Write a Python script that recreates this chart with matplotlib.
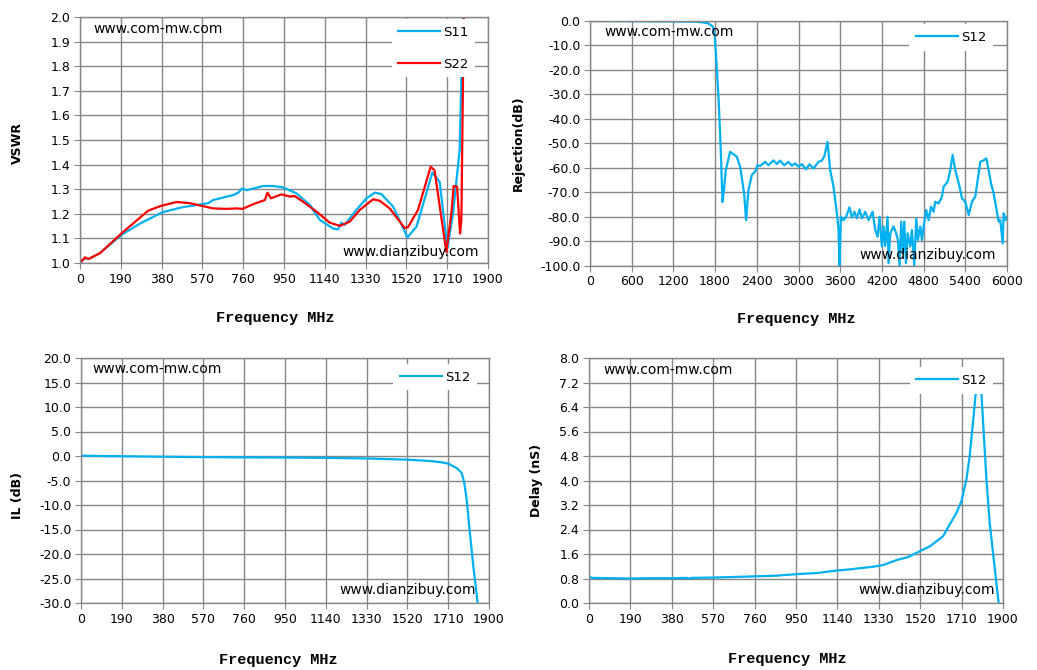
import numpy as np
import matplotlib
matplotlib.use("Agg")
import matplotlib.pyplot as plt

blue = "#00b0f0"
red = "#ff0000"
grid_c = "#868686"

# VSWR (top left)
s11_freq = [0, 23, 39, 93, 194, 279, 383, 473, 574, 597, 620, 713, 737, 755, 776, 853, 900, 946,
            1008, 1070, 1117, 1179, 1202, 1217, 1233, 1287, 1334, 1373, 1404, 1458, 1525, 1567,
            1641, 1675, 1711, 1737, 1768, 1776, 1784, 1790]
s11_vswr = [1.00, 1.02, 1.016, 1.04, 1.115, 1.16, 1.206, 1.226, 1.24, 1.243, 1.256, 1.276, 1.286,
            1.303, 1.296, 1.313, 1.313, 1.307, 1.283, 1.236, 1.175, 1.14, 1.137, 1.164, 1.155,
            1.216, 1.263, 1.286, 1.28, 1.229, 1.104, 1.148, 1.368, 1.33, 1.06, 1.2, 1.458, 1.755,
            2.0, 2.1]
s22_freq = [0, 23, 39, 93, 194, 318, 380, 450, 512, 620, 682, 729, 757, 806, 861, 873, 889, 938,
            977, 1000, 1039, 1101, 1163, 1210, 1256, 1303, 1365, 1396, 1442, 1512, 1528, 1574,
            1633, 1651, 1706, 1729, 1740, 1756, 1770, 1776, 1787, 1792]
s22_vswr = [1.00, 1.023, 1.016, 1.04, 1.121, 1.213, 1.233, 1.248, 1.243, 1.222, 1.22, 1.222, 1.22,
            1.239, 1.256, 1.286, 1.263, 1.279, 1.27, 1.272, 1.249, 1.209, 1.164, 1.151, 1.168,
            1.216, 1.259, 1.253, 1.222, 1.142, 1.146, 1.216, 1.391, 1.377, 1.045, 1.2, 1.313,
            1.31, 1.12, 1.175, 2.0, 2.1]

# Rejection (top right)
rej_freq = [0, 600, 1200, 1500, 1600, 1704, 1766, 1790, 1800, 1824, 1850, 1872, 1890, 1906, 1920,
            1954, 2016, 2112, 2160, 2218, 2246, 2280, 2328, 2376, 2410, 2448, 2520, 2568, 2640,
            2688, 2736, 2794, 2856, 2904, 2952, 3000, 3048, 3106, 3158, 3216, 3288, 3336, 3370,
            3418, 3456, 3504, 3552, 3576, 3590, 3610, 3648, 3686, 3734, 3768, 3806, 3840, 3878,
            3912, 3960, 4008, 4066, 4104, 4138, 4166, 4200, 4224, 4248, 4282, 4296, 4320, 4368,
            4406, 4430, 4454, 4478, 4502, 4522, 4546, 4570, 4608, 4632, 4666, 4694, 4718, 4752,
            4776, 4810, 4838, 4872, 4906, 4944, 4968, 5016, 5064, 5088, 5146, 5184, 5218, 5256,
            5318, 5352, 5400, 5448, 5496, 5544, 5578, 5616, 5664, 5702, 5736, 5770, 5808, 5846,
            5880, 5904, 5938, 5952, 5976, 6000]
rej_db = [-0.1, -0.2, -0.3, -0.4, -0.6, -1.1, -2.4, -5.0, -8.0, -19.0, -32.0, -46.0, -60.0, -74.0,
          -71.0, -61.0, -53.5, -55.5, -59.6, -70.5, -81.4, -69.0, -63.0, -61.6, -59.0, -59.3,
          -57.6, -59.0, -57.0, -58.5, -57.1, -59.0, -57.6, -59.2, -58.2, -59.6, -58.5, -60.7,
          -58.6, -60.3, -57.6, -57.1, -55.5, -49.4, -61.0, -67.8, -78.6, -85.4, -100.0, -80.0,
          -81.4, -80.0, -76.2, -80.3, -78.0, -80.7, -77.0, -80.7, -78.0, -81.4, -78.0, -85.4,
          -88.2, -80.0, -92.2, -84.0, -92.0, -80.0, -99.0, -86.8, -84.0, -86.8, -89.5, -100.0,
          -82.0, -95.0, -82.0, -99.0, -86.8, -92.2, -85.4, -100.0, -80.7, -89.5, -84.0, -89.5,
          -82.0, -77.3, -81.4, -75.9, -78.0, -73.9, -74.6, -71.8, -67.8, -65.7, -61.0, -54.8,
          -61.0, -67.8, -72.5, -73.9, -79.3, -73.9, -71.8, -65.0, -57.6, -57.0, -56.2, -61.0,
          -66.4, -70.5, -76.6, -82.0, -81.4, -90.9, -78.6, -81.4, -80.0]

# Insertion loss (bottom left)
il_freq = [0, 190, 380, 570, 760, 950, 1140, 1330, 1520, 1600, 1641, 1680, 1711, 1749, 1773, 1785,
           1796, 1811, 1827, 1847]
il_db = [0.05, -0.05, -0.15, -0.22, -0.28, -0.32, -0.38, -0.5, -0.75, -0.95, -1.09, -1.3, -1.56,
         -2.45, -3.47, -5.5, -8.9, -15.7, -22.5, -30.0]

# Group delay (bottom right)
dl_freq = [0, 15, 30, 100, 190, 285, 380, 450, 460, 470, 570, 665, 760, 855, 950, 1000, 1050, 1100,
           1140, 1200, 1260, 1300, 1350, 1411, 1464, 1518, 1564, 1594, 1625, 1655, 1686, 1709,
           1732, 1747, 1762, 1775, 1788, 1800, 1824, 1839, 1880]
dl_ns = [0.85, 0.82, 0.82, 0.81, 0.80, 0.81, 0.81, 0.82, 0.79, 0.82, 0.83, 0.85, 0.87, 0.89, 0.94,
         0.96, 0.98, 1.03, 1.06, 1.10, 1.15, 1.18, 1.24, 1.40, 1.50, 1.69, 1.85, 2.01, 2.18, 2.56,
         2.94, 3.32, 4.03, 4.79, 5.88, 6.86, 7.6, 6.97, 4.03, 2.61, 0.0]

fig = plt.figure(figsize=(10.37, 6.70), dpi=100)


def style(ax, xmax, xstep, ylo, yhi, ystep, ylabel, xl, yl, leg_anchor, fmt="%.1f"):
    ax.set_xlim(0, xmax)
    ax.set_ylim(ylo, yhi)
    ax.set_xticks(np.arange(0, xmax + xstep / 2, xstep))
    ax.set_yticks(np.arange(ylo, yhi + ystep / 2, ystep))
    ax.yaxis.set_major_formatter(matplotlib.ticker.FormatStrFormatter(fmt))
    ax.grid(True, color=grid_c, linewidth=1.0)
    ax.set_axisbelow(True)
    for s in ax.spines.values():
        s.set_color(grid_c)
        s.set_linewidth(1.0)
    ax.tick_params(axis="both", direction="out", length=4, color=grid_c, labelsize=9, pad=3)
    ax.set_xlabel("Frequency MHz", family="Liberation Mono", fontweight="bold", fontsize=11)
    ax.set_ylabel(ylabel, fontweight="bold", fontsize=9)
    ax.xaxis.set_label_coords(*xl)
    ax.yaxis.set_label_coords(*yl)
    leg = ax.legend(loc="upper right", bbox_to_anchor=leg_anchor, frameon=True, fancybox=False,
                    edgecolor="none", framealpha=1, fontsize=9.5, handlelength=3.2,
                    handletextpad=0.2, labelspacing=1.4, borderpad=0.5, borderaxespad=0)
    leg.get_frame().set_linewidth(0)


def marks(ax, top, bottom):
    ax.text(top[0], top[1], "www.com-mw.com", transform=ax.transAxes, fontsize=10,
            ha="left", va="center")
    ax.text(bottom[0], bottom[1], "www.dianzibuy.com", transform=ax.transAxes, fontsize=10,
            ha="right", va="center")


# top left
ax1 = fig.add_axes([80 / 1037, 1 - 263 / 670, 408 / 1037, 246 / 670])
ax1.plot(s11_freq, s11_vswr, color=blue, lw=1.6, label="S11")
ax1.plot(s22_freq, s22_vswr, color=red, lw=1.6, label="S22")
style(ax1, 1900, 190, 1.0, 2.0, 0.1, "VSWR", (0.478, -0.195), (-0.137, 0.488), (0.968, 0.99))
marks(ax1, (0.032, 0.951), (0.978, 0.045))

# top right
ax2 = fig.add_axes([590 / 1037, 1 - 265.7 / 670, 417 / 1037, 245 / 670])
ax2.plot(rej_freq, rej_db, color=blue, lw=1.6, label="S12")
style(ax2, 6000, 600, -100, 0, 10, "Rejection(dB)", (0.494, -0.189), (-0.156, 0.5), (0.966, 0.985))
marks(ax2, (0.034, 0.954), (0.974, 0.044))

# bottom left
ax3 = fig.add_axes([81 / 1037, 1 - 603 / 670, 408 / 1037, 245 / 670])
ax3.plot(il_freq, il_db, color=blue, lw=1.6, label="S12")
style(ax3, 1900, 190, -30, 20, 5, "IL (dB)", (0.483, -0.204), (-0.14, 0.44), (0.97, 0.975))
marks(ax3, (0.027, 0.955), (0.968, 0.053))

# bottom right
ax4 = fig.add_axes([589 / 1037, 1 - 603 / 670, 414 / 1037, 245 / 670])
ax4.plot(dl_freq, dl_ns, color=blue, lw=1.6, label="S12")
style(ax4, 1900, 190, 0, 8, 0.8, "Delay (nS)", (0.48, -0.2), (-0.111, 0.5), (0.976, 0.962))
marks(ax4, (0.036, 0.951), (0.981, 0.053))

fig.savefig("out.png", dpi=100)
